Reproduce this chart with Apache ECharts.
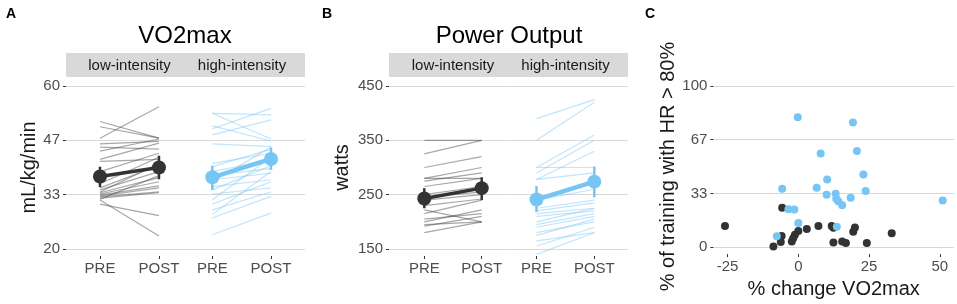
<!DOCTYPE html>
<html>
<head>
<meta charset="utf-8">
<title>VO2max, Power Output, HR</title>
<script src="https://cdn.jsdelivr.net/npm/echarts@6/dist/echarts.min.js"></script>
<style>
  html, body { margin: 0; padding: 0; background: #fff; }
  #chart { width: 957px; height: 304px; }
</style>
</head>
<body>
<div id="chart"></div>
<script>
// categories
const phases = ['PRE', 'POST']
const groups = ['low-intensity', 'high-intensity']

// A: VO2max (mL/kg/min) per subject
const vo2LowPre = [51.3, 50.0, 47.2, 45.8, 45.0, 44.0, 42.0, 41.5, 39.0, 36.0, 35.0, 34.5, 34.0, 33.8, 33.5, 33.2, 33.0, 32.8, 32.5, 32.2, 31.0, 32.0]
const vo2LowPost = [47.2, 47.2, 54.9, 46.4, 44.5, 47.0, 46.0, 42.0, 43.5, 42.5, 40.5, 39.0, 41.0, 37.5, 36.5, 35.5, 35.0, 34.0, 33.8, 38.0, 28.2, 23.2]
const vo2HighPre = [53.3, 53.3, 50.2, 49.5, 48.0, 45.8, 41.0, 40.2, 39.0, 38.0, 37.0, 36.5, 35.3, 34.5, 33.5, 32.1, 31.0, 29.6, 28.5, 27.6, 23.5]
const vo2HighPost = [52.9, 47.0, 46.5, 54.5, 51.7, 45.1, 43.5, 44.5, 41.9, 39.8, 38.6, 45.0, 37.0, 40.5, 35.0, 42.5, 36.5, 34.0, 39.0, 32.9, 28.8]
// group means and error bar ends [PRE, POST]
const vo2LowMean = [37.8, 40.0]
const vo2LowLo = [35.2, 37.1]
const vo2LowHi = [40.2, 42.9]
const vo2HighMean = [37.6, 42.1]
const vo2HighLo = [34.5, 39.4]
const vo2HighHi = [40.4, 44.9]
const vo2Ticks = [20, 33, 47, 60]

// B: power output (watts) per subject
const wattLowPre = [350, 325, 300, 280, 280, 275, 265, 250, 245, 240, 230, 222, 215, 205, 200, 195, 192, 180]
const wattLowPost = [350, 350, 320, 300, 280, 290, 280, 265, 255, 250, 242, 200, 240, 215, 222, 200, 210, 200]
const wattHighPre = [390, 350, 300, 300, 290, 278, 278, 240, 225, 220, 215, 210, 200, 195, 190, 180, 175, 165, 155, 140]
const wattHighPost = [425, 420, 300, 360, 350, 330, 290, 260, 240, 235, 225, 220, 225, 215, 210, 200, 205, 180, 190, 180]
const wattLowMean = [243, 262]
const wattLowLo = [225, 240]
const wattLowHi = [262, 282]
const wattHighMean = [241, 274]
const wattHighLo = [218, 245]
const wattHighHi = [266, 302]
const wattTicks = [150, 250, 350, 450]

// C: % change VO2max vs % of training with HR > 80%
const lowChange = [-5.7, 7.1, 11.8, 12.4, 20, 19.4, 3, 0, -1.2, -1.8, -2.3, -5.9, -6.2, -8.8, 12.4, 15.5, 16.8, 24.2, 33, -25.9]
const lowHR = [24.5, 13.1, 13.1, 12, 12.1, 9.6, 11.2, 10, 7.6, 5.5, 3.5, 6.9, 3.1, 0.4, 2.9, 3.5, 2.5, 2.5, 8.6, 13.1]
const highChange = [-0.2, 19.3, 7.9, 20.7, 23, 10.2, -5.7, 6.5, 23.8, 10, 13.2, 13.4, 14.1, 15.5, 18.5, 51, -3.5, -1.4, 0, 13.6, -7.6]
const highHR = [80.6, 77.3, 58.1, 59.7, 45, 41.9, 36.2, 36.8, 34.8, 32.5, 33.1, 30, 28.4, 26, 30.7, 29, 23.5, 23.3, 14.9, 12.7, 6.7]
const changeTicks = [-25, 0, 25, 50]
const hrTicks = [0, 33, 67, 100]

const font = 'Liberation Sans'
const dark = '#333333'
const blue = '#76C5F5'
const darkThin = 'rgba(60,60,60,0.45)'
const blueThin = 'rgba(118,197,245,0.45)'
const gridColor = '#D9D9D9'
const labelColor = '#4D4D4D'

const myChart = echarts.init(document.getElementById('chart'), null, { renderer: 'canvas' })

// facet panels: A low, A high, B low, B high, C
const grids = [
  { left: 66, top: 86, width: 120, height: 163 },
  { left: 186, top: 86, width: 119, height: 163 },
  { left: 389, top: 86, width: 120.5, height: 163 },
  { left: 509.5, top: 86, width: 118.5, height: 163 },
  { left: 713.4, right: 3, top: 86, height: 163 }
]
// x extent of each facet, PRE = 0, POST = 1 (ggplot discrete expansion)
const facetX = [[-0.576, 1.458], [-0.448, 1.579], [-0.615, 1.484], [-0.467, 1.583]]

function phaseAxis(i) {
  return {
    type: 'value',
    gridIndex: i,
    min: facetX[i][0],
    max: facetX[i][1],
    offset: 7,
    axisLine: { show: false, onZero: false },
    axisTick: { show: true, length: 3, customValues: [0, 1], lineStyle: { color: dark } },
    axisLabel: {
      fontFamily: font, fontSize: 15, color: labelColor, margin: 5,
      customValues: [0, 1],
      formatter: v => phases[Math.round(v)]
    },
    splitLine: { show: false }
  }
}

function valAxis(i, ticks, showLabels, extra) {
  const min = ticks[0]
  const max = ticks[ticks.length - 1]
  return Object.assign({
    type: 'value',
    gridIndex: i,
    min: min,
    max: max,
    interval: (max - min) / (ticks.length - 1),
    axisLine: { show: false, onZero: false },
    axisTick: { show: showLabels, length: 3, lineStyle: { color: dark } },
    axisLabel: {
      show: showLabels,
      fontFamily: font,
      fontSize: 15,
      color: labelColor,
      margin: 6,
      formatter: v => Math.round(v)
    },
    splitLine: { show: true, lineStyle: { color: gridColor, width: 1 } },
    nameLocation: 'middle',
    nameTextStyle: { fontFamily: font, fontSize: 20, color: '#1A1A1A' }
  }, extra || {})
}

function subjectLines(pre, post, axisIndex, color) {
  return pre.map((v, k) => ({
    type: 'line',
    xAxisIndex: axisIndex,
    yAxisIndex: axisIndex,
    data: [[0, v], [1, post[k]]],
    symbol: 'none',
    silent: true,
    clip: false,
    z: 1,
    lineStyle: { color: color, width: 1.2 }
  }))
}

function errorBar(params, api) {
  const top = api.coord([api.value(0), api.value(2)])
  const bottom = api.coord([api.value(0), api.value(1)])
  return {
    type: 'line',
    shape: { x1: top[0], y1: top[1], x2: bottom[0], y2: bottom[1] },
    style: { stroke: api.visual('color'), lineWidth: 2.5 }
  }
}

function meanSeries(mean, lo, hi, axisIndex, color, width) {
  return [
    {
      type: 'custom',
      xAxisIndex: axisIndex,
      yAxisIndex: axisIndex,
      renderItem: errorBar,
      itemStyle: { color: color },
      encode: { x: 0, y: [1, 2] },
      data: phases.map((p, k) => [k, lo[k], hi[k]]),
      z: 3
    },
    {
      type: 'line',
      xAxisIndex: axisIndex,
      yAxisIndex: axisIndex,
      data: mean.map((v, k) => [k, v]),
      symbol: 'circle',
      symbolSize: 14,
      itemStyle: { color: color },
      lineStyle: { color: color, width: width },
      clip: false,
      z: 4
    }
  ]
}

function strip(x0, x1, c0, c1) {
  return [
    { type: 'rect', shape: { x: x0, y: 53, width: x1 - x0, height: 24 }, style: { fill: gridColor }, silent: true },
    { type: 'text', x: c0, y: 65.5, style: { text: groups[0], font: '15px ' + font, fill: '#1A1A1A', align: 'center', verticalAlign: 'middle' } },
    { type: 'text', x: c1, y: 65.5, style: { text: groups[1], font: '15px ' + font, fill: '#1A1A1A', align: 'center', verticalAlign: 'middle' } }
  ]
}

function heading(text, x, y, size, bold, align) {
  return {
    type: 'text', x: x, y: y,
    style: { text: text, font: (bold ? 'bold ' : '') + size + 'px ' + font, fill: '#000', align: align || 'center', verticalAlign: 'middle' }
  }
}

let option = {
  animation: false,
  backgroundColor: '#fff',
  grid: grids,
  xAxis: [
    phaseAxis(0), phaseAxis(1), phaseAxis(2), phaseAxis(3),
    {
      type: 'value',
      gridIndex: 4,
      min: -30,
      max: 55,
      offset: 7,
      axisLine: { show: false, onZero: false },
      axisTick: { show: true, length: 3, customValues: changeTicks, lineStyle: { color: dark } },
      axisLabel: { fontFamily: font, fontSize: 15, color: labelColor, margin: 5, customValues: changeTicks },
      splitLine: { show: false },
      name: '% change VO2max',
      nameLocation: 'middle',
      nameGap: 20,
      nameTextStyle: { fontFamily: font, fontSize: 20, color: '#1A1A1A' }
    }
  ],
  yAxis: [
    valAxis(0, vo2Ticks, true, { name: 'mL/kg/min', nameGap: 27 }),
    valAxis(1, vo2Ticks, false),
    valAxis(2, wattTicks, true, { name: 'watts', nameGap: 37 }),
    valAxis(3, wattTicks, false),
    valAxis(4, hrTicks, true, { name: '% of training with HR > 80%', nameGap: 34 })
  ],
  graphic: [
    heading('A', 6, 14, 14, true, 'left'),
    heading('B', 322, 14, 14, true, 'left'),
    heading('C', 645, 14, 14, true, 'left'),
    heading('VO2max', 185, 36, 24),
    heading('Power Output', 509, 36, 24),
    ...strip(66, 305, 129.5, 242),
    ...strip(389, 628, 453, 565.5)
  ],
  series: [
    ...subjectLines(vo2LowPre, vo2LowPost, 0, darkThin),
    ...subjectLines(vo2HighPre, vo2HighPost, 1, blueThin),
    ...subjectLines(wattLowPre, wattLowPost, 2, darkThin),
    ...subjectLines(wattHighPre, wattHighPost, 3, blueThin),
    ...meanSeries(vo2LowMean, vo2LowLo, vo2LowHi, 0, dark, 3.5),
    ...meanSeries(vo2HighMean, vo2HighLo, vo2HighHi, 1, blue, 4.5),
    ...meanSeries(wattLowMean, wattLowLo, wattLowHi, 2, dark, 3.5),
    ...meanSeries(wattHighMean, wattHighLo, wattHighHi, 3, blue, 4.5),
    {
      type: 'scatter',
      xAxisIndex: 4,
      yAxisIndex: 4,
      symbolSize: 8,
      clip: false,
      itemStyle: { color: dark, opacity: 1 },
      data: lowChange.map((x, k) => [x, lowHR[k]])
    },
    {
      type: 'scatter',
      xAxisIndex: 4,
      yAxisIndex: 4,
      symbolSize: 8,
      clip: false,
      itemStyle: { color: blue, opacity: 1 },
      data: highChange.map((x, k) => [x, highHR[k]])
    }
  ]
}

myChart.setOption(option)
window.addEventListener('resize', () => {
  myChart && myChart.resize()
})
</script>
</body>
</html>
